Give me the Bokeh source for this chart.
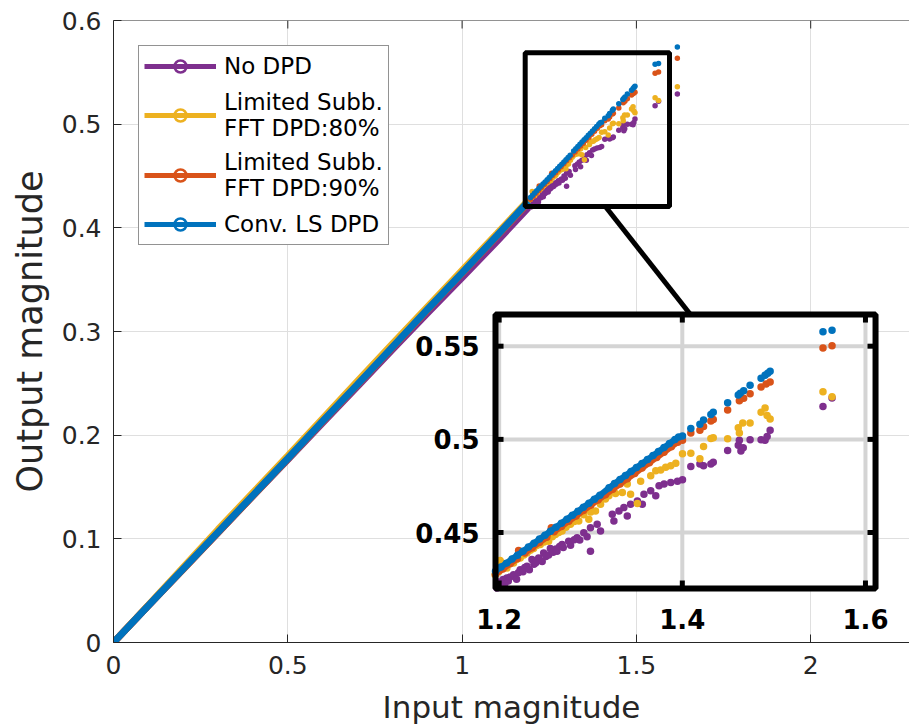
import numpy as np
from bokeh.plotting import figure
from bokeh.models import (Range1d, FixedTicker, Legend, LegendItem, Span,
                          NumeralTickFormatter)
from bokeh.core.properties import value
from bokeh.embed import file_html
from bokeh.resources import INLINE

# ------------------------------------------------------------------ data
series_names = ["No DPD", "Limited Subb.\nFFT DPD:80%", "Limited Subb.\nFFT DPD:90%", "Conv. LS DPD"]
series_colors = ["#7E2F8E", "#EDB120", "#D95319", "#0072BD"]

x_ticks = [0, 0.5, 1, 1.5, 2]
y_ticks = [0, 0.1, 0.2, 0.3, 0.4, 0.5, 0.6]
inset_x_ticks = [1.2, 1.4, 1.6]
inset_x_labels = ["1.2", "1.4", "1.6"]
inset_y_ticks = [0.45, 0.5, 0.55]
inset_y_labels = ["0.45", "0.5", "0.55"]

# dense low-amplitude part (read along each band)
base_x = [0.0, 0.1, 0.2, 0.3, 0.4, 0.5, 0.6, 0.7, 0.8, 0.9, 1.0, 1.1, 1.19]
nodpd_base_y = [0.0, 0.0355, 0.071, 0.106, 0.1415, 0.1765, 0.212, 0.247, 0.2825, 0.3175, 0.352, 0.387, 0.4195]
lim80_base_y = [0.0, 0.036, 0.0725, 0.109, 0.1445, 0.180, 0.216, 0.252, 0.288, 0.3235, 0.359, 0.3945, 0.4265]
lim90_base_y = [0.0, 0.0355, 0.0705, 0.106, 0.1415, 0.177, 0.213, 0.2485, 0.2845, 0.3205, 0.356, 0.392, 0.4245]
conv_base_y = [0.0, 0.0355, 0.071, 0.1065, 0.142, 0.1775, 0.2135, 0.249, 0.285, 0.321, 0.3565, 0.3925, 0.4255]

# high-amplitude scattered samples
nodpd_x = [1.1975, 1.2000, 1.2030, 1.2045, 1.2060, 1.2084, 1.2100, 1.2120, 1.2157, 1.2190,
           1.2210, 1.2230, 1.2260, 1.2280, 1.2304, 1.2330, 1.2358, 1.2380, 1.2400, 1.2431,
           1.2470, 1.2486, 1.2510, 1.2540, 1.2559, 1.2590, 1.2620, 1.2632, 1.2660, 1.2687,
           1.2700, 1.2759, 1.2780, 1.2820, 1.2851, 1.2880, 1.2924, 1.2960, 1.2997, 1.2997,
           1.3070, 1.3107, 1.3235, 1.3253, 1.3308, 1.3362, 1.3399, 1.3435, 1.3509, 1.3563,
           1.3581, 1.3655, 1.3710, 1.3746, 1.3801, 1.3874, 1.3947, 1.4002, 1.4093, 1.4192,
           1.4232, 1.4312, 1.4338, 1.4495, 1.4611, 1.4623, 1.4640, 1.4665, 1.4740, 1.4860,
           1.4904, 1.4926, 1.4959, 1.5536, 1.5635, 1.6175]
nodpd_y = [0.4202, 0.4235, 0.4229, 0.4248, 0.4222, 0.4256, 0.4240, 0.4262, 0.4274, 0.4250,
           0.4285, 0.4301, 0.4290, 0.4312, 0.4319, 0.4300, 0.4355, 0.4330, 0.4338, 0.4364,
           0.4345, 0.4391, 0.4372, 0.4380, 0.4415, 0.4395, 0.4412, 0.4400, 0.4425, 0.4436,
           0.4420, 0.4454, 0.4432, 0.4462, 0.4472, 0.4460, 0.4499, 0.4478, 0.4526, 0.4400,
           0.4544, 0.4508, 0.4598, 0.4562, 0.4616, 0.4634, 0.4589, 0.4652, 0.4670, 0.4652,
           0.4706, 0.4724, 0.4697, 0.4751, 0.4760, 0.4769, 0.4775, 0.4784, 0.4854, 0.4868,
           0.4858, 0.4868, 0.4877, 0.4941, 0.4968, 0.4995, 0.4937, 0.4955, 0.4998, 0.4998,
           0.4995, 0.5016, 0.5049, 0.5177, 0.5222, 0.5290]

lim80_x = [1.1956, 1.1995, 1.2010, 1.2030, 1.2084, 1.2120, 1.2157, 1.2190, 1.2230, 1.2270,
           1.2304, 1.2340, 1.2376, 1.2410, 1.2449, 1.2490, 1.2540, 1.2580, 1.2614, 1.2650,
           1.2687, 1.2730, 1.2778, 1.2820, 1.2869, 1.2924, 1.2979, 1.3000, 1.3052, 1.3107,
           1.3160, 1.3198, 1.3271, 1.3345, 1.3399, 1.3435, 1.3509, 1.3545, 1.3655, 1.3710,
           1.3764, 1.3819, 1.3874, 1.3929, 1.4002, 1.4093, 1.4192, 1.4232, 1.4312, 1.4338,
           1.4495, 1.4611, 1.4623, 1.4660, 1.4740, 1.4860, 1.4904, 1.4926, 1.4959, 1.5536,
           1.5635, 1.6175]
lim80_y = [0.4274, 0.4290, 0.4350, 0.4337, 0.4310, 0.4345, 0.4337, 0.4355, 0.4364, 0.4380,
           0.4391, 0.4405, 0.4415, 0.4430, 0.4436, 0.4450, 0.4454, 0.4478, 0.4490, 0.4500,
           0.4508, 0.4528, 0.4544, 0.4560, 0.4562, 0.4595, 0.4571, 0.4610, 0.4616, 0.4652,
           0.4680, 0.4697, 0.4710, 0.4715, 0.4760, 0.4706, 0.4656, 0.4775, 0.4805, 0.4832,
           0.4836, 0.4850, 0.4859, 0.4872, 0.4923, 0.4926, 0.4896, 0.4962, 0.5005, 0.5009,
           0.5004, 0.5063, 0.5034, 0.5088, 0.5088, 0.5146, 0.5169, 0.5128, 0.5110, 0.5256,
           0.5229, 0.5362]

lim90_x = [1.1960, 1.2040, 1.2120, 1.2200, 1.2212, 1.2280, 1.2360, 1.2440, 1.2520, 1.2570,
           1.2600, 1.2680, 1.2760, 1.2840, 1.2920, 1.3000, 1.3080, 1.3160, 1.3240, 1.3320,
           1.3400, 1.3480, 1.3560, 1.3640, 1.3720, 1.3800, 1.3880, 1.3950, 1.4002, 1.4093,
           1.4192, 1.4232, 1.4312, 1.4338, 1.4495, 1.4623, 1.4670, 1.4740, 1.4860, 1.4915,
           1.4959, 1.5536, 1.5635, 1.6175]
lim90_y = [0.4276, 0.4304, 0.4333, 0.4361, 0.4404, 0.4390, 0.4418, 0.4447, 0.4475, 0.4526,
           0.4504, 0.4532, 0.4561, 0.4589, 0.4618, 0.4646, 0.4675, 0.4703, 0.4732, 0.4760,
           0.4789, 0.4817, 0.4846, 0.4874, 0.4903, 0.4931, 0.4960, 0.4985, 0.4995, 0.5034,
           0.5049, 0.5069, 0.5099, 0.5106, 0.5157, 0.5207, 0.5220, 0.5245, 0.5281, 0.5297,
           0.5308, 0.5490, 0.5503, 0.5636]

conv_x = [1.1960, 1.2020, 1.2080, 1.2140, 1.2200, 1.2260, 1.2320, 1.2380, 1.2440, 1.2500,
          1.2560, 1.2620, 1.2680, 1.2740, 1.2800, 1.2860, 1.2920, 1.2980, 1.3040, 1.3100,
          1.3200, 1.3260, 1.3320, 1.3380, 1.3440, 1.3500, 1.3560, 1.3620, 1.3680, 1.3740,
          1.3800, 1.3860, 1.3920, 1.3960, 1.4002, 1.4093, 1.4192, 1.4232, 1.4312, 1.4338,
          1.4495, 1.4611, 1.4633, 1.4670, 1.4740, 1.4860, 1.4904, 1.4933, 1.4959, 1.5536,
          1.5635, 1.6175]
conv_y = [0.4293, 0.4315, 0.4336, 0.4358, 0.4379, 0.4400, 0.4422, 0.4443, 0.4465, 0.4486,
          0.4507, 0.4529, 0.4550, 0.4572, 0.4593, 0.4614, 0.4636, 0.4657, 0.4679, 0.4700,
          0.4740, 0.4763, 0.4785, 0.4806, 0.4828, 0.4849, 0.4870, 0.4892, 0.4913, 0.4935,
          0.4956, 0.4978, 0.4999, 0.5013, 0.5018, 0.5058, 0.5081, 0.5104, 0.5134, 0.5146,
          0.5196, 0.5238, 0.5247, 0.5261, 0.5290, 0.5328, 0.5344, 0.5355, 0.5366, 0.5577,
          0.5585, 0.5745]

# ------------------------------------------------------------------ layout
W, H = 909, 728
LEFT, TOP, BOTTOM = 113, 20, 86
PX_PER_X = 348.6
X_END = (W - LEFT) / PX_PER_X
Y_END = 0.6
PX_PER_Y = (H - TOP - BOTTOM) / Y_END

INSET_VIEW_X = (1.196, 1.611)
INSET_VIEW_Y = (0.42, 0.567)
INSET_BOX_X = (1.0958, 2.186)     # placement of the inset in main data units
INSET_BOX_Y = (0.0521, 0.3164)
ZOOM_BOX_X = (1.181, 1.595)
ZOOM_BOX_Y = (0.4206, 0.569)
CONNECT_X = (1.411, 1.655)
CONNECT_Y = (0.4206, 0.3164)

AX = "#262626"
FONT = "DejaVu Sans"

p = figure(width=W, height=H, output_backend="svg", toolbar_location=None,
           x_range=Range1d(0, X_END), y_range=Range1d(0, Y_END),
           min_border_left=LEFT, min_border_right=0, min_border_top=TOP,
           min_border_bottom=BOTTOM)
p.outline_line_color = None
p.background_fill_color = "white"
p.border_fill_color = "white"

kx = (INSET_VIEW_X[1] - INSET_VIEW_X[0]) / (INSET_BOX_X[1] - INSET_BOX_X[0])
ky = (INSET_VIEW_Y[1] - INSET_VIEW_Y[0]) / (INSET_BOX_Y[1] - INSET_BOX_Y[0])
p.extra_x_ranges = {"ix": Range1d(INSET_VIEW_X[0] - INSET_BOX_X[0] * kx,
                                  INSET_VIEW_X[0] + (X_END - INSET_BOX_X[0]) * kx),
                    "hide": Range1d(10, 11)}
p.extra_y_ranges = {"iy": Range1d(INSET_VIEW_Y[0] - INSET_BOX_Y[0] * ky,
                                  INSET_VIEW_Y[0] + (Y_END - INSET_BOX_Y[0]) * ky)}

# axes
for ax, ticks in ((p.xaxis[0], x_ticks), (p.yaxis[0], y_ticks)):
    ax.ticker = FixedTicker(ticks=ticks)
    ax.formatter = NumeralTickFormatter(format="0.[00]")
    ax.axis_line_color = AX
    ax.major_tick_line_color = AX
    ax.major_tick_in = 8
    ax.major_tick_out = 0
    ax.minor_tick_line_color = None
    ax.major_label_text_font = FONT
    ax.major_label_text_font_size = "25px"
    ax.major_label_text_color = AX
    ax.axis_label_text_font = FONT
    ax.axis_label_text_font_style = "normal"
    ax.axis_label_text_color = AX
p.xaxis[0].axis_label = "Input magnitude"
p.xaxis[0].axis_label_text_font_size = "31px"
p.xaxis[0].major_label_standoff = 13
p.xaxis[0].axis_label_standoff = 12
p.yaxis[0].axis_label = "Output magnitude"
p.yaxis[0].axis_label_text_font_size = "35px"
p.yaxis[0].major_label_standoff = 12
p.yaxis[0].axis_label_standoff = 9

# top box edge with inward ticks
p.add_layout(Span(location=Y_END, dimension="width", line_color=AX, line_width=1))
p.segment(x0=x_ticks, x1=x_ticks, y0=[Y_END] * len(x_ticks),
          y1=[Y_END - 8 / PX_PER_Y] * len(x_ticks), line_color=AX, line_width=1)

p.xgrid.ticker = FixedTicker(ticks=x_ticks)
p.ygrid.ticker = FixedTicker(ticks=y_ticks)
p.grid.grid_line_color = "#dfdfdf"
p.grid.grid_line_width = 1

series = [
    (nodpd_base_y, nodpd_x, nodpd_y),
    (lim80_base_y, lim80_x, lim80_y),
    (lim90_base_y, lim90_x, lim90_y),
    (conv_base_y, conv_x, conv_y),
]
tight_band = [False, False, True, True]

# main view
for (by, sx, sy), c in zip(series, series_colors):
    p.line(x=base_x, y=by, line_color=c, line_width=7)
    p.scatter(x=sx, y=sy, marker="circle", size=5.5, fill_color=c, line_color=None)

# zoom box + connector
p.quad(left=[ZOOM_BOX_X[0]], right=[ZOOM_BOX_X[1]], bottom=[ZOOM_BOX_Y[0]], top=[ZOOM_BOX_Y[1]],
       fill_color=None, line_color="black", line_width=5)
p.segment(x0=[CONNECT_X[0]], y0=[CONNECT_Y[0]], x1=[CONNECT_X[1]], y1=[CONNECT_Y[1]],
          line_color="black", line_width=5)

# inset
IR = dict(x_range_name="ix", y_range_name="iy")
p.quad(left=[INSET_VIEW_X[0]], right=[INSET_VIEW_X[1]], bottom=[INSET_VIEW_Y[0]],
       top=[INSET_VIEW_Y[1]], fill_color="white", line_color=None, **IR)
p.segment(x0=inset_x_ticks, x1=inset_x_ticks, y0=[INSET_VIEW_Y[0]] * 3, y1=[INSET_VIEW_Y[1]] * 3,
          line_color="#d4d4d4", line_width=4, **IR)
p.segment(x0=[INSET_VIEW_X[0]] * 3, x1=[INSET_VIEW_X[1]] * 3, y0=inset_y_ticks, y1=inset_y_ticks,
          line_color="#d4d4d4", line_width=4, **IR)
for (by, sx, sy), c, tight in zip(series, series_colors, tight_band):
    ax_ = np.array(sx)
    ay_ = np.array(sy)
    m = ((ax_ >= INSET_VIEW_X[0] - 0.0015) & (ax_ <= INSET_VIEW_X[1]) &
         (ay_ >= INSET_VIEW_Y[0] - 0.001) & (ay_ <= INSET_VIEW_Y[1]))
    if tight:
        d = m & (ax_ <= 1.397)
        p.line(x=ax_[d], y=ay_[d], line_color=c, line_width=6, **IR)
    p.scatter(x=ax_[m], y=ay_[m], marker="circle", size=7.5, fill_color=c, line_color=None, **IR)

tlx = 8 / 912.5
tly = 8 / 1850.0
p.segment(x0=inset_x_ticks, x1=inset_x_ticks, y0=[INSET_VIEW_Y[0]] * 3,
          y1=[INSET_VIEW_Y[0] + tly] * 3, line_color="black", line_width=5, **IR)
p.segment(x0=inset_x_ticks, x1=inset_x_ticks, y0=[INSET_VIEW_Y[1]] * 3,
          y1=[INSET_VIEW_Y[1] - tly] * 3, line_color="black", line_width=5, **IR)
p.segment(x0=[INSET_VIEW_X[0]] * 3, x1=[INSET_VIEW_X[0] + tlx] * 3, y0=inset_y_ticks,
          y1=inset_y_ticks, line_color="black", line_width=5, **IR)
p.segment(x0=[INSET_VIEW_X[1]] * 3, x1=[INSET_VIEW_X[1] - tlx] * 3, y0=inset_y_ticks,
          y1=inset_y_ticks, line_color="black", line_width=5, **IR)
p.quad(left=[INSET_VIEW_X[0]], right=[INSET_VIEW_X[1]], bottom=[INSET_VIEW_Y[0]],
       top=[INSET_VIEW_Y[1]], fill_color=None, line_color="black", line_width=6, **IR)

p.text(x=inset_x_ticks, y=[INSET_VIEW_Y[0]] * 3, text=inset_x_labels, text_align="center",
       text_baseline="top", y_offset=21, text_font=value(FONT), text_font_style="bold",
       text_font_size="26px", text_color="black", **IR)
p.text(x=[INSET_VIEW_X[0]] * 3, y=inset_y_ticks, text=inset_y_labels, text_align="right",
       text_baseline="middle", x_offset=-16, text_font=value(FONT), text_font_style="bold",
       text_font_size="26px", text_color="black", **IR)

# legend (glyph renderers kept off-screen via the "hide" range)
items = []
for name, c, (by, sx, sy) in zip(series_names, series_colors, series):
    rc = p.scatter(x=base_x[:1], y=by[:1], marker="circle", size=12, fill_color="white",
                   line_color=c, line_width=2.5, x_range_name="hide")
    rl = p.line(x=base_x[:2], y=by[:2], line_color=c, line_width=5, x_range_name="hide")
    items.append(LegendItem(label=name, renderers=[rc, rl]))

legend = Legend(items=items, location="top_left", margin=25, padding=5, spacing=8,
                glyph_width=72, glyph_height=30, label_standoff=8,
                label_text_font=FONT, label_text_font_size="23px",
                label_text_line_height=1.45, label_text_color="black",
                border_line_color=AX, border_line_width=1,
                background_fill_color="white", background_fill_alpha=1.0)
p.add_layout(legend)

open("out.html", "w").write(file_html(p, INLINE))
